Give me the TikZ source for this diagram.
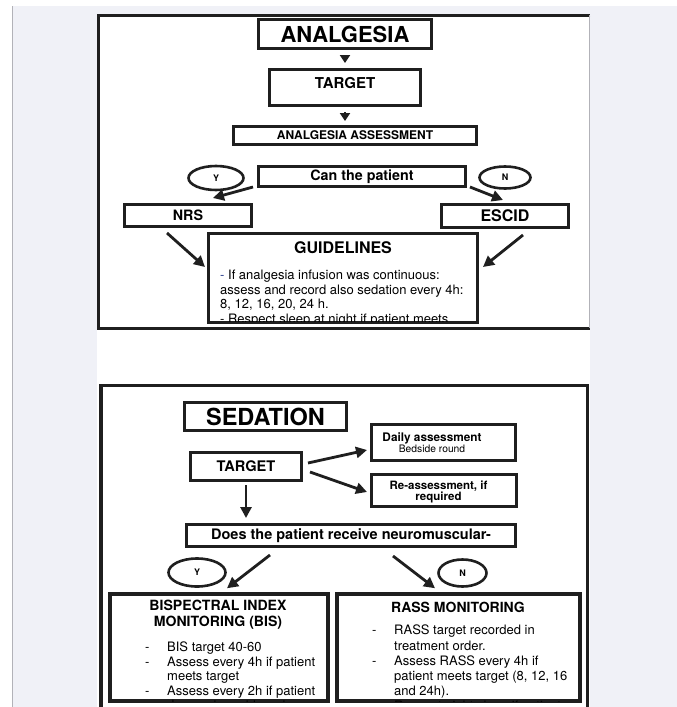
\documentclass[tikz,border=0pt]{standalone}
\usepackage{fontspec}
\setmainfont{TeX Gyre Heros}
\usetikzlibrary{calc,arrows.meta,shapes.geometric}
\definecolor{pagebg}{RGB}{240,241,247}
\definecolor{sidegray}{RGB}{178,178,184}
\definecolor{dashblue}{RGB}{40,60,140}
\newcommand{\fs}[2]{\fontsize{#1}{#2}\selectfont}
\newcommand{\itemdash}{\makebox[22pt][l]{-}}
\newcommand{\hang}{\hspace*{22pt}}

\begin{document}
\begin{tikzpicture}[x=1pt,y=-1pt]
\tikzset{
	box/.style = {draw=black!88, line width=3pt, inner sep=0pt},
	yn/.style = {draw=black!88, ellipse, line width=2.6pt, inner sep=0pt, font=\fs{9}{10}\bfseries},
	arr/.style = {draw=black!88, line width=2.8pt, -{Triangle[length=11pt,width=11pt]}},
	headonly/.style = {draw=black!88, line width=2.8pt, -{Triangle[length=8pt,width=10pt]}},
	bodytext/.style = {inner sep=0pt, align=left, font=\fs{13}{14.5}}
}
\useasboundingbox (0,0) rectangle (677,707);
\clip (0,0) rectangle (677,707);
\fill[pagebg] (12,6) rectangle (677,707);
\draw[sidegray, line width=1pt] (12,6) -- (12,707);
\fill[white] (97,15) rectangle (590,707);
% analgesia panel
\draw[black!88, line width=3pt] (590,15.5) -- (98.5,15.5) -- (98.5,328) -- (590,328);
\draw[sidegray, line width=0.8pt] (589.5,15) -- (589.5,328);
\node[box, minimum width=173pt, minimum height=29pt, font=\fs{22}{24}\bfseries] (analg) at (345,34) {ANALGESIA};
\node[box, minimum width=151pt, minimum height=36pt, text depth=9pt, font=\fs{15}{17}\bfseries] (targetA) at (345,87.5) {TARGET};
\node[box, minimum width=243pt, minimum height=18pt, font=\fs{12}{14}\bfseries] (assessA) at (355,135.5) {ANALGESIA ASSESSMENT};
\node[yn, minimum width=55pt, minimum height=24pt] (yesA) at (216,178) {Y};
\node[box, minimum width=207pt, minimum height=20pt, font=\fs{14.3}{16}\bfseries] (can) at (362,176.5) {Can the patient};
\node[yn, minimum width=51pt, minimum height=22pt] (noA) at (505,177.5) {N};
\node[box, minimum width=127pt, minimum height=22pt, font=\fs{14.3}{16}\bfseries] (nrs) at (188,215.5) {NRS};
\node[box, minimum width=127pt, minimum height=23pt, font=\fs{16}{18}\bfseries] (escid) at (505,216) {ESCID};
\node[box, minimum width=269pt, minimum height=89pt] (guide) at (343,278) {};
\node[font=\fs{16}{18}\bfseries] (guidetitle) at (343,248) {GUIDELINES};
\begin{scope}
\clip ([shift={(1.5,1.5)}]guide.north west) rectangle ([shift={(-1.5,-3)}]guide.south east);
\node[bodytext, anchor=north west] (guidetxt) at (220,270) {\textcolor{dashblue}{-} If analgesia infusion was continuous:\\
assess and record also sedation every 4h:\\
8, 12, 16, 20, 24 h.\\
- Respect sleep at night if patient meets};
\end{scope}
\draw[headonly, shorten <=5pt, shorten >=5pt] (analg) -- (targetA);
\draw[headonly, shorten <=5pt, shorten >=4pt] (targetA.south) -- (targetA.south |- assessA.north);
\draw[arr] ([shift={(-4,-1)}]can.south west) -- ([shift={(-40,-5)}]nrs.north east);
\draw[arr] ([shift={(3,-1)}]can.south east) -- ([shift={(-2,-3)}]escid.north);
\draw[arr] ([shift={(-21,5)}]nrs.south) -- ([shift={(-2,-11)}]guide.west);
\draw[arr] ([shift={(18,6)}]escid.south) -- ([shift={(4,-11)}]guide.east);
% sedation panel
\draw[black!88, line width=3.5pt] (101,712) -- (101,385.5) -- (587.5,385.5) -- (587.5,712);
\node[box, minimum width=162pt, minimum height=28pt, font=\fs{23.5}{25}\bfseries] (sedation) at (265.5,416.5) {SEDATION};
\node[box, minimum width=111pt, minimum height=28pt, font=\fs{14.6}{16}\bfseries] (targetS) at (246,466.5) {TARGET};
\node[box, minimum width=144pt, minimum height=36pt] (daily) at (443.5,442.5) {};
\node[inner sep=0pt, align=center, font=\fs{11.8}{10}\bfseries] (dailytxt) at (432,443) {Daily assessment\\ {\fs{10.3}{10}\mdseries Bedside round}};
\node[box, minimum width=145pt, minimum height=32pt] (reassess) at (444,490.5) {};
\node[inner sep=0pt, align=center, font=\fs{11.5}{10}\bfseries] (reasstxt) at (438.5,492) {Re-assessment, if\\ required};
\node[box, minimum width=329pt, minimum height=22pt, font=\fs{14.5}{16}\bfseries] (neuro) at (351,535.5) {Does the patient receive neuromuscular-};
\node[yn, minimum width=57pt, minimum height=28pt] (yesS) at (197,572.5) {Y};
\node[yn, minimum width=48pt, minimum height=27pt] (noS) at (462.5,573) {N};
\node[box, line width=3.5pt, minimum width=218pt, minimum height=107pt] (bis) at (219,647.5) {};
\node[box, line width=3.5pt, minimum width=243pt, minimum height=107pt] (rass) at (458.5,647.5) {};
\node[align=center, inner sep=0pt, font=\fs{14.1}{16}\bfseries] (bistitle) at (218,615) {BISPECTRAL INDEX\\ MONITORING (BIS)};
\node[inner sep=0pt, font=\fs{14}{16}\bfseries] (rasstitle) at (458,607) {RASS MONITORING};
\begin{scope}
\clip ([shift={(2,2)}]bis.north west) rectangle ([shift={(-2,-1.5)}]bis.south east);
\node[bodytext, anchor=north west] (bislist) at (145,642) {\itemdash BIS target 40-60\\
\itemdash Assess every 4h if patient\\
\hang meets target\\
\itemdash Assess every 2h if patient\\
\hang does not meet target};
\end{scope}
\begin{scope}
\clip ([shift={(2,2)}]rass.north west) rectangle ([shift={(-2,-1.5)}]rass.south east);
\node[bodytext, font=\fs{13}{15.2}, anchor=north west] (rasslist) at (372,625) {\itemdash RASS target recorded in\\
\hang treatment order.\\
\itemdash Assess RASS every 4h if\\
\hang patient meets target (8, 12, 16\\
\hang and 24h).\\
\itemdash Respect night sleep if patient};
\end{scope}
\draw[arr] ([shift={(5,-3.5)}]targetS.east) -- ([shift={(-3,7.5)}]daily.west);
\draw[arr] ([shift={(7,5.5)}]targetS.east) -- ([shift={(-3,1.5)}]reassess.west);
\draw[arr, shorten <=3pt, shorten >=5pt] (targetS.south) -- (targetS.south |- neuro.north);
\draw[arr] ([shift={(-81,7)}]neuro.south) -- ([shift={(8,-4)}]bis.north);
\draw[arr] ([shift={(42,8)}]neuro.south) -- ([shift={(-23.5,-4)}]rass.north);
\end{tikzpicture}
\end{document}
